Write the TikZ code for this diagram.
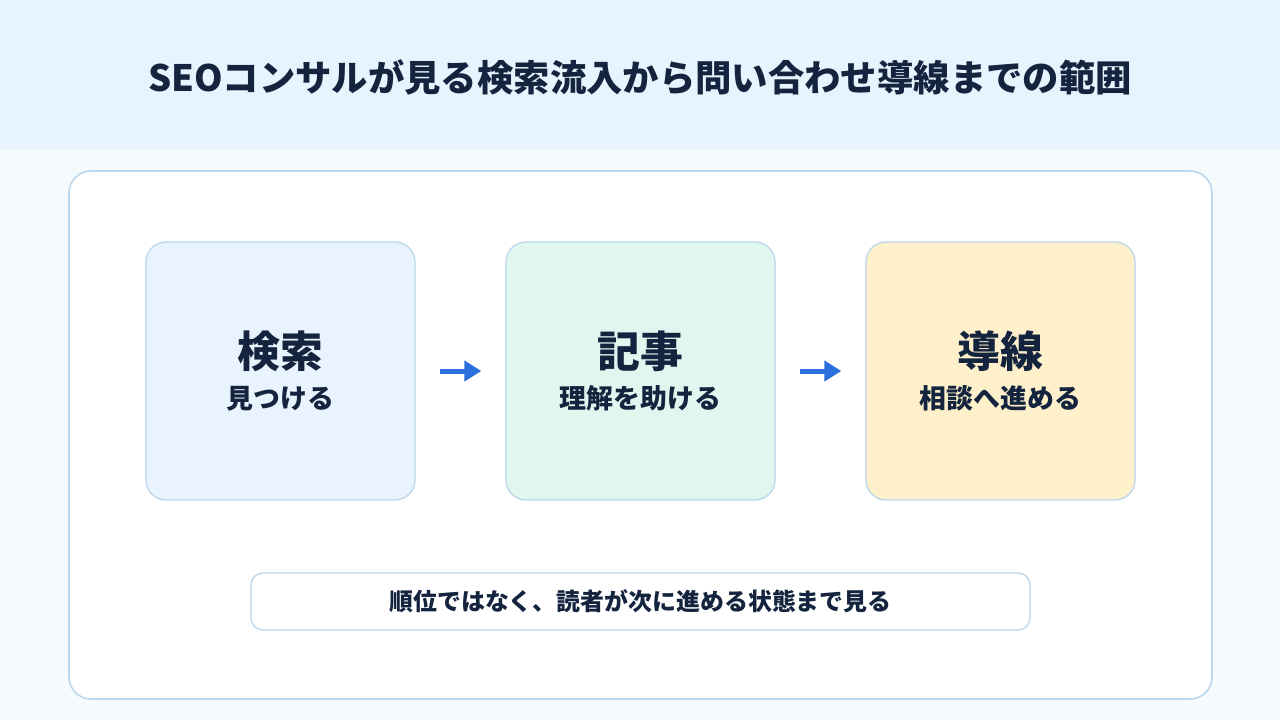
\documentclass[tikz,border=0pt]{standalone}
\usepackage{fontspec}
\setmainfont{Noto Sans CJK JP}
\usepackage{tikz}
\usetikzlibrary{arrows.meta}
\definecolor{HeaderBg}{HTML}{E8F4FD}
\definecolor{PageBg}{HTML}{F5FAFD}
\definecolor{EdgeSoft}{HTML}{BAD7EB}
\definecolor{TextDark}{HTML}{14243F}
\definecolor{SearchFill}{HTML}{E8F3FD}
\definecolor{ArticleFill}{HTML}{E0F6EF}
\definecolor{LeadFill}{HTML}{FEF0CB}
\definecolor{FlowBlue}{HTML}{2A6FDB}

\begin{document}
\begin{tikzpicture}[
        x=1bp, y=-1bp,
        text=TextDark,
        stage/.style={
            rounded corners=20bp,
            draw=EdgeSoft,
            line width=1.3bp,
            minimum width=269bp,
            minimum height=258bp,
            align=center,
            inner sep=0pt,
            font=\bfseries
        },
        farr/.style={-{Triangle[length=17bp,width=20bp]}, line width=5bp, draw=FlowBlue,
            shorten <=24bp, shorten >=24bp}
    ]
        \useasboundingbox (0,0) rectangle (1280,720);
        \fill[PageBg] (0,0) rectangle (1280,720);
        \fill[HeaderBg] (0,0) rectangle (1280,150);
        \node[font=\bfseries\fontsize{36.5}{40}\selectfont] (title) at (640,77)
            {SEOコンサルが見る検索流入から問い合わせ導線までの範囲};

        \draw[EdgeSoft, line width=1.6bp, fill=white, rounded corners=22bp]
            (69,171) rectangle (1212,699);

        \node[stage, fill=SearchFill] (search) at (280.5,371)
            {\fontsize{43}{46}\selectfont 検索\\[13bp]\fontsize{27}{30}\selectfont 見つける};
        \node[stage, fill=ArticleFill] (article) at (640.5,371)
            {\fontsize{43}{46}\selectfont 記事\\[13bp]\fontsize{27}{30}\selectfont 理解を助ける};
        \node[stage, fill=LeadFill] (lead) at (1000.5,371)
            {\fontsize{43}{46}\selectfont 導線\\[13bp]\fontsize{27}{30}\selectfont 相談へ進める};

        \draw[farr] (search) -- (article);
        \draw[farr] (article) -- (lead);

        \node[stage, fill=white, minimum width=779bp, minimum height=57bp, rounded corners=12bp,
            font=\bfseries\fontsize{24}{28}\selectfont] (note) at (640.5,601.5)
            {順位ではなく、読者が次に進める状態まで見る};
    \end{tikzpicture}
\end{document}
